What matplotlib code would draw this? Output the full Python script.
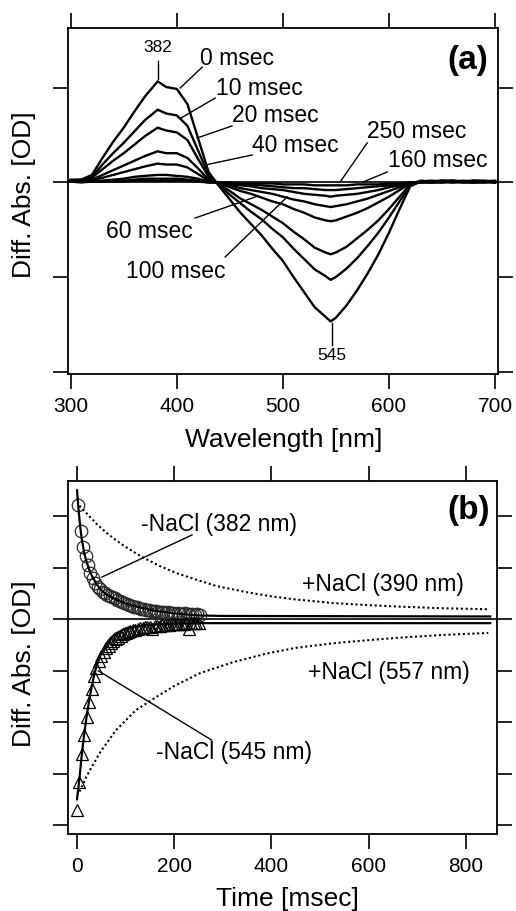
import matplotlib
matplotlib.use("Agg")
import matplotlib.pyplot as plt

plt.rcParams["font.family"] = ["Liberation Sans", "DejaVu Sans"]

# ---------------- (a) difference spectra, mOD ----------------
wavelength = [300, 310, 320, 330, 340, 350, 360, 370, 382, 390, 400, 410, 420,
              430, 440, 450, 460, 470, 480, 490, 500, 510, 520, 530, 540, 545,
              550, 560, 570, 580, 590, 600, 610, 620, 630, 640, 650, 660, 670,
              680, 690, 700]

spec_0ms = [0.3, 0.3, 0.8, 2.6, 4.3, 5.8, 7.5, 9.1, 10.7, 10.1, 9.9, 8.3, 4.7,
            1.1, -0.4, -1.8, -3.2, -4.4, -5.6, -7.0, -8.3, -10.0, -11.6, -13.2,
            -14.2, -14.7, -14.3, -13.0, -11.4, -9.6, -7.6, -5.3, -2.8, -0.4,
            0.1, 0.2, 0.1, 0.2, 0.1, 0.2, 0.2, 0.1]
spec_10ms = [0.2, 0.3, 0.6, 1.9, 3.1, 4.2, 5.4, 6.6, 7.7, 7.3, 7.1, 6.0, 3.4,
             0.8, -0.3, -1.3, -2.2, -3.1, -3.9, -4.9, -5.8, -7.0, -8.1, -9.2,
             -9.9, -10.3, -10.0, -9.1, -8.0, -6.7, -5.3, -3.7, -2.0, -0.3,
             0.2, 0.1, 0.2, 0.1, 0.2, 0.1, 0.1, 0.2]
spec_20ms = [0.2, 0.2, 0.5, 1.4, 2.3, 3.1, 4.0, 4.9, 5.8, 5.5, 5.3, 4.5, 2.5,
             0.6, -0.2, -0.9, -1.7, -2.3, -2.9, -3.6, -4.3, -5.2, -6.0, -6.9,
             -7.4, -7.6, -7.4, -6.8, -5.9, -5.0, -4.0, -2.8, -1.5, -0.2,
             0.1, 0.1, 0.2, 0.2, 0.1, 0.2, 0.1, 0.1]
spec_40ms = [0.2, 0.2, 0.3, 0.8, 1.3, 1.8, 2.3, 2.8, 3.3, 3.1, 3.1, 2.6, 1.5,
             0.3, -0.1, -0.5, -0.9, -1.2, -1.6, -2.0, -2.3, -2.8, -3.2, -3.7,
             -4.0, -4.1, -4.0, -3.6, -3.2, -2.7, -2.1, -1.5, -0.8, -0.1,
             0.0, 0.1, 0.1, 0.0, 0.1, 0.1, 0.0, 0.1]
spec_60ms = [0.2, 0.1, 0.2, 0.5, 0.8, 1.1, 1.4, 1.7, 2.0, 1.9, 1.9, 1.6, 0.9,
             0.2, -0.1, -0.3, -0.6, -0.8, -1.0, -1.2, -1.5, -1.8, -2.0, -2.3,
             -2.5, -2.6, -2.5, -2.3, -2.0, -1.7, -1.3, -0.9, -0.5, -0.1,
             0.1, 0.0, 0.1, 0.1, 0.0, 0.1, 0.1, 0.0]
spec_100ms = [0.1, 0.1, 0.1, 0.2, 0.3, 0.4, 0.6, 0.7, 0.8, 0.8, 0.7, 0.6, 0.4,
              0.1, 0.0, -0.2, -0.3, -0.4, -0.6, -0.7, -0.8, -1.0, -1.2, -1.3,
              -1.4, -1.5, -1.4, -1.3, -1.2, -1.0, -0.8, -0.5, -0.3, 0.0,
              0.0, 0.1, 0.0, 0.1, 0.1, 0.0, 0.1, 0.0]
spec_160ms = [0.1, 0.1, 0.1, 0.1, 0.2, 0.2, 0.3, 0.4, 0.4, 0.4, 0.4, 0.3, 0.2,
              0.0, 0.0, -0.1, -0.2, -0.2, -0.3, -0.4, -0.5, -0.6, -0.6, -0.7,
              -0.8, -0.8, -0.8, -0.7, -0.6, -0.5, -0.4, -0.3, -0.2, 0.0,
              0.0, 0.0, 0.1, 0.0, 0.1, 0.0, 0.0, 0.1]
spec_250ms = [0.1, 0.0, 0.1, 0.1, 0.1, 0.1, 0.2, 0.2, 0.2, 0.2, 0.2, 0.2, 0.1,
              0.0, 0.0, 0.0, -0.1, -0.1, -0.1, -0.1, -0.2, -0.2, -0.2, -0.3,
              -0.3, -0.3, -0.3, -0.3, -0.2, -0.2, -0.2, -0.1, -0.1, 0.0,
              0.1, 0.0, 0.0, 0.1, 0.0, 0.0, 0.1, 0.0]
spectra = [spec_0ms, spec_10ms, spec_20ms, spec_40ms,
           spec_60ms, spec_100ms, spec_160ms, spec_250ms]

# ---------------- (b) kinetics, mOD ----------------
t_382 = [2.5 + 5 * i for i in range(51)]
abs_382 = [11.1, 8.5, 7.0, 6.1, 5.25, 4.5, 3.95, 3.5, 3.15, 2.9, 2.65, 2.5,
           2.35, 2.2, 2.1, 2.0, 1.85, 1.75, 1.65, 1.55, 1.45, 1.35, 1.3, 1.2,
           1.15, 1.05, 1.0, 0.95, 0.9, 0.85, 0.8, 0.8, 0.75, 0.7, 0.7, 0.65,
           0.6, 0.65, 0.55, 0.6, 0.5, 0.55, 0.5, 0.45, 0.55, 0.45, 0.4, 0.5,
           0.4, 0.45, 0.4]
t_545 = [5 * i for i in range(51)]
abs_545 = [-18.5, -15.8, -13.1, -11.25, -9.5, -8.05, -6.75, -5.5, -4.75, -4.1,
           -3.6, -3.2, -2.85, -2.6, -2.35, -2.15, -1.95, -1.8, -1.65, -1.5,
           -1.4, -1.3, -1.2, -1.1, -1.05, -1.0, -0.9, -0.85, -0.8, -0.75,
           -0.75, -1.0, -0.7, -0.65, -0.65, -0.6, -0.6, -0.55, -0.55, -0.5,
           -0.5, -0.5, -0.45, -0.45, -0.45, -0.4, -1.0, -0.4, -0.4, -0.4, -0.35]

fit_382_t = [0, 2.5, 5, 7.5, 10, 15, 20, 25, 30, 40, 50, 60, 80, 100, 130,
             160, 200, 250, 300, 850]
fit_382_v = [12.5, 11.0, 9.7, 8.6, 7.7, 6.4, 5.5, 4.8, 4.25, 3.4, 2.8, 2.4,
             1.9, 1.5, 1.1, 0.8, 0.55, 0.35, 0.3, 0.25]
fit_545_t = [0, 5, 10, 15, 20, 25, 30, 35, 40, 50, 60, 70, 80, 100, 150, 200,
             250, 850]
fit_545_v = [-17.5, -15.5, -13.1, -11.1, -9.4, -7.9, -6.6, -5.5, -4.6, -3.3,
             -2.4, -1.8, -1.4, -0.9, -0.55, -0.45, -0.4, -0.4]

nacl_390_t = [5, 20, 40, 60, 80, 100, 133, 170, 205, 250, 287, 350, 400, 450,
              527, 600, 665, 750, 846]
nacl_390_v = [11.0, 10.25, 9.25, 8.4, 7.65, 7.0, 6.05, 5.15, 4.45, 3.75, 3.2,
              2.6, 2.2, 1.9, 1.55, 1.35, 1.2, 1.05, 0.95]
nacl_557_t = [5, 20, 46, 80, 121, 162, 200, 253, 320, 390, 450, 527, 600, 665,
              750, 846]
nacl_557_v = [-16.75, -15.25, -13.05, -10.8, -8.85, -7.6, -6.5, -5.25, -4.2,
              -3.35, -2.8, -2.35, -2.05, -1.8, -1.55, -1.35]

FS_LAB = 16.5
FS_AX = 19


def style_axes(ax):
    for s in ax.spines.values():
        s.set_linewidth(1.3)
    ax.tick_params(direction="out", length=10.8, width=1.2, top=True,
                   right=True, labeltop=False, labelright=False,
                   labelleft=False, labelsize=15, pad=6)
    ax.axhline(0, color="k", lw=1.2, zorder=1)


def leader(ax, p0, p1):
    ax.plot([p0[0], p1[0]], [p0[1], p1[1]], color="k", lw=1.0, zorder=4)


fig = plt.figure(figsize=(5.16, 9.11), dpi=100)

# ---- panel (a)
ax = fig.add_axes([0.1318, 0.5895, 0.8333, 0.3798])
for spec in spectra:
    ax.plot(wavelength, spec, color="k", lw=1.7, zorder=3)
ax.set_xlim(297.5, 702.7)
ax.set_ylim(-20.26, 16.35)
ax.set_xticks([300, 400, 500, 600, 700])
ax.set_yticks([-20, -10, 0, 10])
style_axes(ax)

leader(ax, (382.3, 10.9), (382.3, 12.86))
ax.text(382, 14.3, "382", ha="center", va="center", fontsize=12.5)
leader(ax, (546, -14.9), (546, -17.2))
ax.text(545.8, -17.5, "545", ha="center", va="top", fontsize=12.5)

leader(ax, (403.2, 10.0), (423.9, 12.2))
ax.text(422, 12.45, "0 msec", ha="left", va="baseline", fontsize=FS_LAB)
leader(ax, (404.1, 6.83), (436.2, 8.94))
ax.text(437, 9.26, "10 msec", ha="left", va="baseline", fontsize=FS_LAB)
leader(ax, (419.2, 4.71), (452, 5.98))
ax.text(452.2, 6.4, "20 msec", ha="left", va="baseline", fontsize=FS_LAB)
leader(ax, (426.7, 1.85), (471, 2.91))
ax.text(471, 3.23, "40 msec", ha="left", va="baseline", fontsize=FS_LAB)
leader(ax, (579.4, 4.18), (553.9, 0.05))
ax.text(579.3, 4.71, "250 msec", ha="left", va="baseline", fontsize=FS_LAB)
leader(ax, (598.2, 1.11), (575.6, 0.05))
ax.text(599, 1.64, "160 msec", ha="left", va="baseline", fontsize=FS_LAB)
leader(ax, (417.3, -3.76), (476.6, -1.43))
ax.text(415.4, -5.87, "60 msec", ha="right", va="baseline", fontsize=FS_LAB)
leader(ax, (445.6, -7.88), (504, -1.53))
ax.text(445.6, -10.1, "100 msec", ha="right", va="baseline", fontsize=FS_LAB)
ax.text(693.3, 12.96, "(a)", ha="right", va="center", fontsize=24,
        fontweight="bold")

fig.text(0.549, 0.517, "Wavelength [nm]", ha="center", va="center",
         fontsize=FS_AX)
fig.text(0.0465, 0.786, "Diff. Abs. [OD]", ha="center", va="center",
         rotation=90, fontsize=FS_AX)

# ---- panel (b)
bx = fig.add_axes([0.1318, 0.0845, 0.8314, 0.3875])
bx.plot(t_382, abs_382, linestyle="none", marker="o", ms=9, mfc="none",
        mec="#2a2a2a", mew=0.9, zorder=3)
bx.plot(t_545, abs_545, linestyle="none", marker="^", ms=9, mfc="none",
        mec="k", mew=0.9, zorder=3)
bx.plot(fit_382_t, fit_382_v, color="k", lw=1.6, zorder=4)
bx.plot(fit_545_t, fit_545_v, color="k", lw=1.6, zorder=4)
bx.plot(nacl_390_t, nacl_390_v, color="k", lw=1.5, ls=(0, (1, 1.3)), zorder=2)
bx.plot(nacl_557_t, nacl_557_v, color="k", lw=1.5, ls=(0, (1, 1.3)), zorder=2)
bx.set_xlim(-18.5, 864)
bx.set_ylim(-20.87, 13.4)
bx.set_xticks([0, 200, 400, 600, 800])
bx.set_yticks([-20, -15, -10, -5, 0, 5, 10])
style_axes(bx)

leader(bx, (51.4, 4.08), (236.6, 8.16))
bx.text(292, 9.13, "-NaCl (382 nm)", ha="center", va="center",
        fontsize=FS_LAB)
bx.text(629.6, 3.4, "+NaCl (390 nm)", ha="center", va="center",
        fontsize=FS_LAB)
bx.text(642, -5.15, "+NaCl (557 nm)", ha="center", va="center",
        fontsize=FS_LAB)
leader(bx, (43.8, -5.02), (277, -11.75))
bx.text(323, -13.0, "-NaCl (545 nm)", ha="center", va="center",
        fontsize=FS_LAB)
bx.text(850, 10.5, "(b)", ha="right", va="center", fontsize=24,
        fontweight="bold")

fig.text(0.558, 0.0132, "Time [msec]", ha="center", va="center",
         fontsize=FS_AX)
fig.text(0.0465, 0.272, "Diff. Abs. [OD]", ha="center", va="center",
         rotation=90, fontsize=FS_AX)

fig.savefig("out.png", dpi=100)
